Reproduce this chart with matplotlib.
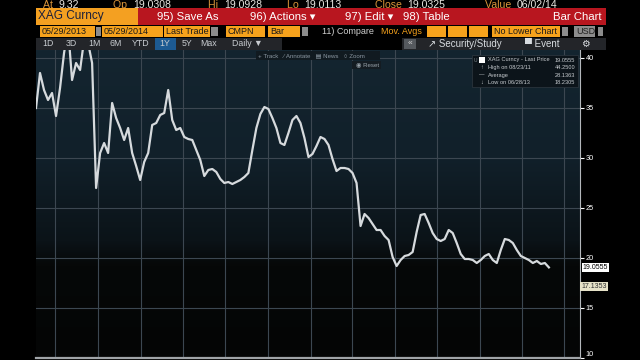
import matplotlib
matplotlib.use("Agg")
import matplotlib.pyplot as plt
import matplotlib.dates as mdates
from matplotlib.patches import Rectangle
from matplotlib.colors import LinearSegmentedColormap
import numpy as np
import pandas as pd

plt.rcParams['font.family'] = ['Liberation Sans Narrow', 'Liberation Sans', 'DejaVu Sans']

# XAG Curncy, roughly weekly prices
start_date = '2011-05-21'
end_date = '2014-05-29'
price = [35.0, 38.5, 36.8, 35.8, 36.5, 34.2, 37.0, 40.5, 43.0, 37.8,
         39.5, 38.8, 41.8, 41.5, 39.5, 27.0, 30.5, 31.5, 30.5, 35.5,
         34.0, 33.0, 31.8, 33.0, 30.5, 29.2, 27.8, 29.6, 30.5, 33.3,
         33.5, 34.3, 34.5, 36.8, 33.8, 32.8, 33.0, 32.1, 31.9, 31.8,
         30.8, 29.8, 28.2, 28.8, 28.9, 28.6, 27.9, 27.5, 27.6, 27.4,
         27.6, 27.8, 28.1, 28.5, 30.8, 33.0, 34.4, 35.1, 34.9, 34.0,
         33.0, 31.5, 31.3, 32.5, 33.8, 34.2, 33.5, 32.0, 30.1, 30.4,
         31.2, 32.1, 31.9, 31.3, 29.9, 28.7, 29.0, 29.0, 28.9, 28.5,
         27.5, 23.2, 24.4, 24.0, 23.4, 22.8, 22.8, 22.2, 21.8, 20.1,
         19.2, 19.8, 20.2, 20.3, 20.6, 22.6, 24.3, 24.4, 23.5, 22.5,
         21.9, 21.7, 21.9, 22.8, 22.5, 21.5, 20.4, 19.9, 19.9, 19.8,
         19.5, 19.8, 20.2, 20.4, 19.8, 19.5, 20.8, 21.9, 21.8, 21.5,
         20.8, 20.2, 20.0, 19.8, 19.5, 19.7, 19.4, 19.5, 19.06]
dates = pd.date_range(start_date, end_date, periods=len(price))

y_ticks = [10, 15, 20, 25, 30, 35, 40]
last_price = 19.0555
second_tag = 17.1353

legend_rows = [('XAG Curncy - Last Price', '19.0555'),
               ('High on 08/23/11', '44.2500'),
               ('Average', '28.1363'),
               ('Low on 06/28/13', '18.2305')]

quote_line = [('At', '9.32', 43), ('Op', '19.0308', 113), ('Hi', '19.0928', 208),
              ('Lo', '19.0113', 287), ('Close', '19.0325', 375), ('Value', '06/02/14', 485)]

W, H = 640, 360
fig = plt.figure(figsize=(6.4, 3.6), dpi=100, facecolor='black')


def rect(x0, y0, x1, y1, color, z=1, ec='none'):
    fig.add_artist(Rectangle((x0 / W, 1 - y1 / H), (x1 - x0) / W, (y1 - y0) / H,
                             transform=fig.transFigure, facecolor=color,
                             edgecolor=ec, lw=0.6, zorder=z))


def txt(x, y, s, color='white', size=7, ha='left', va='center', z=6, **kw):
    return fig.text(x / W, 1 - y / H, s, color=color, fontsize=size, ha=ha, va=va,
                    zorder=z, **kw)


# main price panel
ax = fig.add_axes([36 / W, 2 / H, 544 / W, 308 / H])
ax.set_facecolor('#050606')
grad = LinearSegmentedColormap.from_list('bg', [
    (0.0, '#040505'), (0.30, '#060808'), (0.38, '#0b1318'),
    (0.65, '#11202a'), (1.0, '#142530')])
ax.imshow(np.linspace(0, 1, 256).reshape(-1, 1), cmap=grad, aspect='auto',
          extent=[0, 1, 0, 1], transform=ax.transAxes, zorder=0, origin='lower')

ax.plot(dates, price, color='#d6dadd', lw=1.6, zorder=3)

ax.set_xlim(pd.Timestamp('2011-05-21'), pd.Timestamp('2014-08-04'))
ax.set_ylim(10, 40.8)
ax.xaxis.set_major_locator(mdates.MonthLocator(bymonth=[1, 4, 7, 10]))
ax.set_yticks(y_ticks)
ax.grid(True, color='#3c4751', lw=0.8, zorder=1)
ax.tick_params(axis='x', length=0, labelbottom=False)
ax.yaxis.tick_right()
ax.tick_params(axis='y', colors='white', labelsize=5.3, length=3, width=0.8, pad=1)
ax.yaxis.get_major_ticks()[0].label2.set_verticalalignment('bottom')
for s in ['top', 'left']:
    ax.spines[s].set_visible(False)
ax.spines['right'].set_color('#b4b8bc')
ax.spines['bottom'].set_color('#a0a4a8')
ax.spines['bottom'].set_linewidth(1.6)

# price tags on the axis
ax.annotate(f'{last_price:.4f}', xy=(1.0, last_price), xycoords=('axes fraction', 'data'),
            xytext=(2, 0), textcoords='offset points', fontsize=5, color='black',
            va='center', ha='left', annotation_clip=False,
            bbox=dict(boxstyle='square,pad=0.15', fc='white', ec='none'))
ax.annotate(f'{second_tag:.4f}', xy=(1.0, second_tag), xycoords=('axes fraction', 'data'),
            xytext=(1, 0), textcoords='offset points', fontsize=5, color='#303030',
            va='center', ha='left', annotation_clip=False,
            bbox=dict(boxstyle='square,pad=0.15', fc='#e6e2c8', ec='none'))

# legend box
rect(472, 55, 578, 87, '#0c141a', z=5, ec='#2a343c')
rect(479, 57, 485, 63, 'white', z=6)
icons = ['', '↑', '—', '↓']
for i, (name, val) in enumerate(legend_rows):
    yy = 60 + i * 7.6
    if icons[i]:
        txt(482, yy, icons[i], color='#c8ccd0', size=4, ha='center')
    txt(488, yy, name, color='#c8ccd0', size=4.1)
    txt(575, yy, val, color='#c8ccd0', size=4.1, ha='right')
txt(474, 60, 'U', color='#80888e', size=3.5)

# plot toolbar
rect(256, 51, 380, 60, '#111a20', z=5)
txt(258, 55.5, '+ Track   ⁄ Annotate   ▤ News   ○ Zoom', color='#8a96a0', size=4.4)
rect(352, 61, 381, 69, '#141c22', z=5)
txt(356, 65, '◉ Reset', color='#9aa4ac', size=4.4)

# header rows
rect(36, 8, 606, 25, '#b8161f')
rect(36, 8, 138, 25, '#f4a021', z=2)
txt(38, 16.5, 'XAG Curncy', color='#1b1f3a', size=8.5)
txt(157, 16.5, '95) Save As', size=8.2)
txt(250, 16.5, '96) Actions ▾', size=8.2)
txt(345, 16.5, '97) Edit ▾', size=8.2)
txt(403, 16.5, '98) Table', size=8.2)
txt(602, 16.5, 'Bar Chart', size=8.2, ha='right')

fig.canvas.draw()
for lab, val, x in quote_line:
    t = txt(x, 7.8, lab + '  ', color='#dc963a', size=7.6, va='baseline')
    bb = t.get_window_extent(renderer=fig.canvas.get_renderer())
    fig.text(bb.x1 / W, 1 - 7.8 / H, val, color='#e8e6e0', fontsize=7.6, va='baseline')

orange = '#f6a21c'
row2 = [(40, 95, '05/29/2013'), (102, 163, '05/29/2014'), (164, 210, 'Last Trade'),
        (226, 265, 'CMPN'), (268, 300, 'Bar'), (492, 560, 'No Lower Chart')]
for x0, x1, s in row2:
    rect(x0, 26, x1, 37, orange)
    txt(x0 + 2, 31.5, s, color='#1a1a1a', size=6.5)
for x0, x1 in [(96, 101), (211, 218), (302, 308), (562, 568), (598, 603)]:
    rect(x0, 27, x1, 36, '#8c8c8c')
for x0, x1 in [(427, 446), (448, 467), (469, 488)]:
    rect(x0, 26, x1, 37, orange)
rect(574, 26, 595, 37, '#8c8c8c')
txt(576, 31.5, 'USD', color='#202020', size=6.5)
txt(322, 31.5, '11) Compare', color='#d0d0d0', size=6.5)
txt(381, 31.5, 'Mov. Avgs', color=orange, size=6.5)

rect(36, 38, 282, 50, '#232529')
rect(402, 38, 606, 50, '#232529')
rect(155, 38, 176, 50, '#1d5a92', z=2)
for x, s in [(48, '1D'), (71, '3D'), (94, '1M'), (116, '6M'), (141, 'YTD'),
             (165, '1Y'), (187, '5Y'), (209, 'Max'), (247, 'Daily ▼')]:
    txt(x, 44, s, color='#c8ccd0', size=6.3, ha='center')
rect(404, 39, 416, 49, '#55595e', z=2)
txt(410, 44, '«', color='#d8d8d8', size=6, ha='center')
txt(428, 44, '↗ Security/Study', color='#d8dce0', size=7)
txt(525, 44, '▀ Event', color='#d8dce0', size=7)
txt(585, 44, '⚙', color='#d8dce0', size=7, ha='center')

fig.savefig('out.png', dpi=100, facecolor='black')
